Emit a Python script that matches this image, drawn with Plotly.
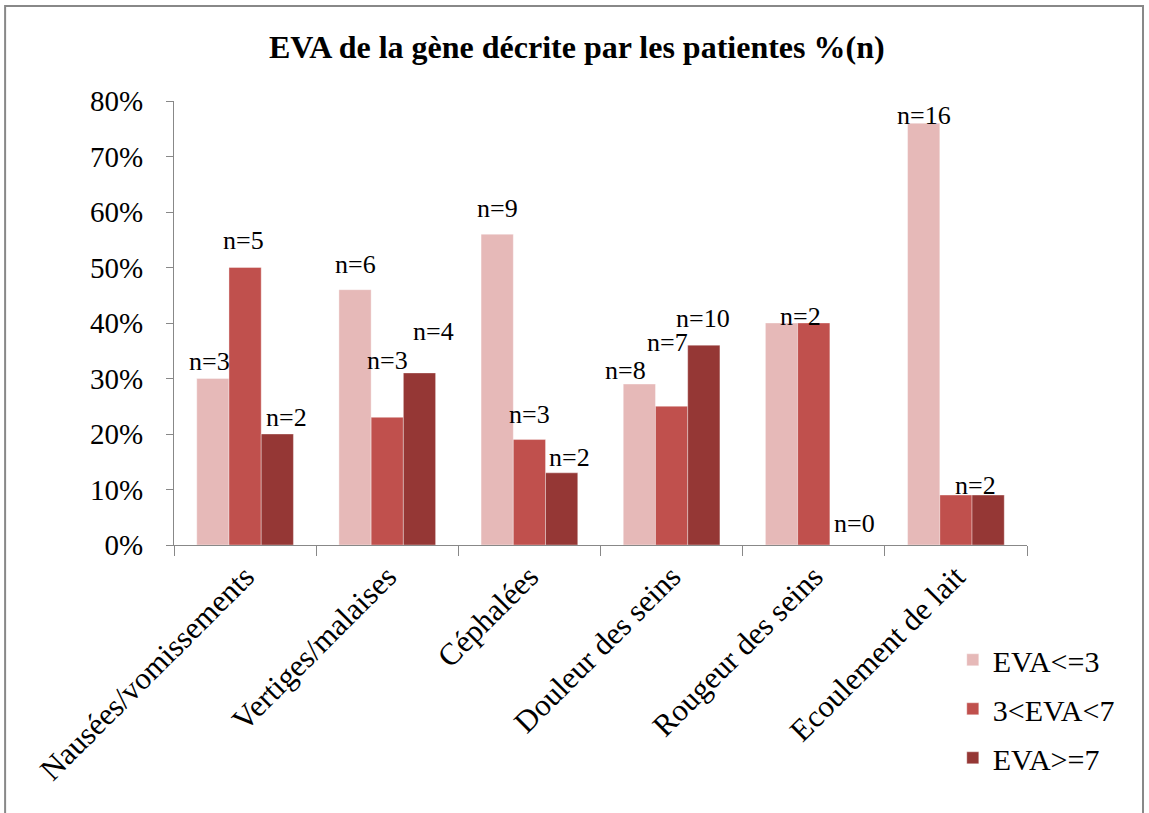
import plotly.graph_objects as go

categories = ["Nausées/vomissements", "Vertiges/malaises", "Céphalées",
              "Douleur des seins", "Rougeur des seins", "Ecoulement de lait"]
series_names = ["EVA<=3", "3<EVA<7", "EVA>=7"]
eva_low = [30, 46, 56, 29, 40, 76]
eva_mid = [50, 23, 19, 25, 40, 9]
eva_high = [20, 31, 13, 36, 0, 9]
n_low = ["n=3", "n=6", "n=9", "n=8", "", "n=16"]
n_mid = ["n=5", "n=3", "n=3", "n=7", "n=2", ""]
n_high = ["n=2", "n=4", "n=2", "n=10", "n=0", "n=2"]
y_ticks = [0, 10, 20, 30, 40, 50, 60, 70, 80]

# label nudges in pixels (dx, dy above bar top), styling only
nudge_low = [(-3, 17), (0, 25), (0, 26), (-14, 14), (0, 0), (0, 8)]
nudge_mid = [(-2, 27), (0, 57), (0, 25), (-4, 64), (-13, 7), (0, 0)]
nudge_high = [(9, 17), (14, 41), (8, 15), (-1, 27), (9, 22), (-13, 10)]

colors = ["#E6B9B8", "#C0504D", "#953735"]
font_family = "Liberation Serif, Times New Roman, serif"
bargap = 0.32

fig = go.Figure()
annotations = []
bar_w = (1 - bargap) / 3
for k, (name, vals, labels, nudges, col) in enumerate(zip(
        series_names, [eva_low, eva_mid, eva_high], [n_low, n_mid, n_high],
        [nudge_low, nudge_mid, nudge_high], colors)):
    fig.add_trace(go.Bar(
        x=categories, y=vals, name=name, legendgroup=name,
        marker=dict(color=col, line=dict(color="rgba(255,255,255,0.6)", width=0.6)),
    ))
    for i, (v, lab, (dx, dy)) in enumerate(zip(vals, labels, nudges)):
        if not lab:
            continue
        annotations.append(dict(
            x=i + (k - 1) * bar_w, y=v, xref="x", yref="y",
            text=lab, showarrow=False, xanchor="center", yanchor="middle",
            xshift=dx, yshift=dy,
            font=dict(family=font_family, size=26, color="black"),
        ))

fig.update_layout(
    width=1149, height=813,
    barmode="group", bargap=bargap, bargroupgap=0,
    paper_bgcolor="white", plot_bgcolor="white",
    margin=dict(l=174, r=122, t=101, b=268, autoexpand=False),
    font=dict(family=font_family, color="black", size=26),
    title=dict(text="<b>EVA de la gène décrite par les patientes %(n)</b>",
               x=0.502, xanchor="center", y=1 - 47 / 813, yanchor="middle",
               font=dict(family=font_family, size=32, color="black")),
    showlegend=True,
    legend=dict(x=0.913, xanchor="left", y=-0.2, yanchor="top",
                font=dict(family=font_family, size=30, color="black"),
                itemwidth=30, tracegroupgap=7, bgcolor="rgba(0,0,0,0)",
                traceorder="grouped"),
    xaxis=dict(showline=True, linecolor="#888888", linewidth=1.3,
               ticks="outside", ticklen=10, tickcolor="#888888",
               tickson="boundaries", tickangle=-45, automargin=False,
               tickfont=dict(family=font_family, size=31, color="black"),
               showgrid=False),
    yaxis=dict(range=[0, 80], tickvals=y_ticks,
               ticktext=[f"{v}%" for v in y_ticks],
               showline=True, linecolor="#888888", linewidth=1.3,
               ticks="outside", ticklen=7, tickcolor="#888888",
               ticklabelstandoff=17, automargin=False,
               tickfont=dict(family=font_family, size=29, color="black"),
               showgrid=False, zeroline=False),
    annotations=annotations,
    shapes=[dict(type="rect", xref="paper", yref="paper",
                 x0=-0.198, x1=1.136, y0=-0.7, y1=1.214,
                 line=dict(color="#888888", width=2), fillcolor="rgba(0,0,0,0)")],
)

fig.write_html("out.html", post_script="document.body.style.margin='0px';",
               config={"displayModeBar": False})
